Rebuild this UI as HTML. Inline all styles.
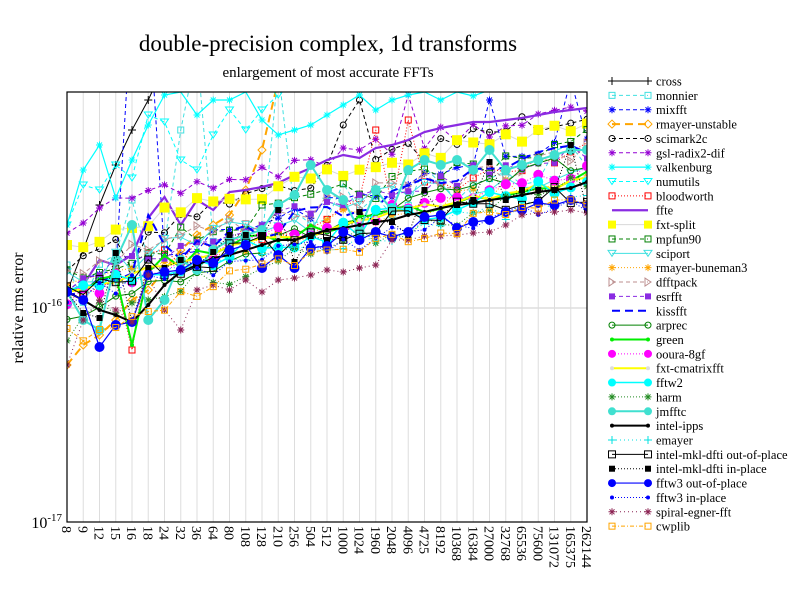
<!DOCTYPE html>
<html><head><meta charset="utf-8"><style>
html,body{margin:0;padding:0;background:#fff}
svg{display:block;font-family:"Liberation Serif",serif}
</style></head><body>
<svg id="s" width="792" height="612" xmlns="http://www.w3.org/2000/svg">
<rect width="792" height="612" fill="#fff"/>
<text x="328" y="51" font-size="23" text-anchor="middle">double-precision complex, 1d transforms</text>
<text x="328" y="77" font-size="15" text-anchor="middle">enlargement of most accurate FFTs</text>
<text transform="translate(23,308) rotate(-90)" font-size="16" text-anchor="middle">relative rms error</text>
<text x="62" y="313" font-size="16" text-anchor="end">10<tspan dy="-7" font-size="11">-16</tspan></text>
<text x="62" y="528" font-size="16" text-anchor="end">10<tspan dy="-7" font-size="11">-17</tspan></text>
<g id="grid"></g><g id="ser"></g><g id="leg"></g>
<rect x="67" y="92" width="520" height="430" fill="none" stroke="#000" stroke-width="1.2"/>
</svg>
<script>
const NS="http://www.w3.org/2000/svg";
const X0=67,DX=16.25,T=92,B=522;
const labels=[8,9,12,15,16,18,24,32,36,64,80,108,128,210,256,504,512,1000,1024,1960,2048,4096,4725,8192,10368,16384,27000,32768,65536,75600,131072,165375,262144];
function el(p,n,a,t){const e=document.createElementNS(NS,n);for(const k in a)e.setAttribute(k,a[k]);if(t!==undefined)e.textContent=t;p.appendChild(e);return e;}
const g=document.getElementById('grid'),S=document.getElementById('ser'),L=document.getElementById('leg'),svg=document.getElementById('s');
labels.forEach((l,i)=>{const x=X0+i*DX;el(g,'line',{x1:x,x2:x,y1:T,y2:B,stroke:'#ddd','stroke-width':1});
 el(svg,'text',{transform:`translate(${x-5},526) rotate(90)`,'font-size':14},String(l));});
el(g,'line',{x1:X0,x2:587,y1:308,y2:308,stroke:'#ddd','stroke-width':1.5});
let seed=7;function rnd(){seed=(seed*16807)%2147483647;return seed/2147483647;}
function gen(a,b,noise,sp){const r=[];for(let i=0;i<33;i++){let v=a+(b-a)*Math.pow(i/32,0.8)+(rnd()-0.5)*2*noise;if(sp&&sp[i]!==undefined)v=sp[i];r.push(v);}return r;}
const series=[
{n:'cross',c:'#000',w:1,d:'',m:'plus',y:[292,250,205,165,130,100,65,30,0,0,0,0,0,0,0,0,0,0,0,0,0,0,0,0,0,0,0,0,0,0,0,0,0]},
{n:'monnier',c:'#40e0e0',w:1,d:'4,3',m:'sq',y:gen(290,150,25,{4:200,7:130,8:50,13:70})},
{n:'mixfft',c:'#0000ff',w:1,d:'4,3',m:'star',y:gen(295,140,10,{4:0,5:0,26:100,31:80})},
{n:'rmayer-unstable',c:'#ffa500',w:2,d:'8,5',m:'dia',y:[365,345,335,320,300,290,270,250,235,225,215,190,150,80,0,0,0,0,0,0,0,0,0,0,0,0,0,0,0,0,0,0,0]},
{n:'scimark2c',c:'#000',w:1,d:'4,3',m:'circ',y:gen(262,110,12,{4:270,17:125,18:100})},
{n:'gsl-radix2-dif',c:'#9400d3',w:1,d:'4,3',m:'star',y:gen(225,110,10,{18:150,21:95})},
{n:'valkenburg',c:'#00ffff',w:1.2,d:'',m:'star',y:[225,170,145,198,160,125,95,92,115,100,100,92,120,135,130,125,115,105,95,110,100,95,92,100,92,96,90,90,92,88,90,85,90]},
{n:'numutils',c:'#00ffff',w:1,d:'4,3',m:'tri',y:[225,185,190,165,178,115,122,160,170,135,110,130,110,95,80,60,50,40,30,20,20,10,5,0,0,0,0,0,0,0,0,0,0]},
{n:'bloodworth',c:'#ff0000',w:1,d:'1,2',m:'sq',y:gen(298,150,12,{4:350,19:130,21:120})},
{n:'ffte',c:'#8a2be2',w:2.2,d:'',m:'',y:[292,285,260,265,255,218,197,225,200,210,192,190,187,183,175,168,160,155,158,148,145,140,132,128,125,122,122,120,118,115,112,110,108]},
{n:'fxt-split',c:'#d8d8d8',w:1,d:'',m:'bsq',mc:'#ffff00',y:gen(245,125,10,{0:245,4:228})},
{n:'mpfun90',c:'#008000',w:1,d:'4,3',m:'sq',y:gen(280,140,12)},
{n:'sciport',c:'#40e0e0',w:1,d:'',m:'tri',y:gen(280,165,15)},
{n:'rmayer-buneman3',c:'#ffa500',w:1,d:'1,2',m:'star',y:gen(288,175,12)},
{n:'dfftpack',c:'#bc8f8f',w:1,d:'4,3',m:'rtri',y:gen(272,155,12)},
{n:'esrfft',c:'#8a2be2',w:1,d:'4,3',m:'fsq',y:gen(285,150,10)},
{n:'kissfft',c:'#0000ff',w:2,d:'8,5',m:'',y:gen(295,150,10,{5:215,6:245})},
{n:'arprec',c:'#008000',w:1,d:'',m:'circ',y:gen(320,160,10)},
{n:'green',c:'#00ee00',w:2,d:'',m:'dot',y:gen(295,175,8,{4:345})},
{n:'ooura-8gf',c:'#ff00ff',w:1,d:'1,2',m:'big',y:gen(300,170,10)},
{n:'fxt-cmatrixfft',c:'#ffff00',w:2,d:'',m:'dot',mc:'#ddd',y:gen(295,180,6)},
{n:'fftw2',c:'#00ffff',w:1.5,d:'',m:'big',y:gen(300,180,12)},
{n:'harm',c:'#228b22',w:1,d:'1,2',m:'star',y:gen(330,185,12)},
{n:'jmfftc',c:'#40e0d0',w:2,d:'',m:'big',y:[292,320,330,260,225,320,300,260,270,250,240,235,230,205,195,165,190,200,230,190,210,170,160,165,160,170,150,170,165,160,155,150,150]},
{n:'intel-ipps',c:'#000',w:2,d:'',m:'dot',y:[292,300,310,315,322,305,285,272,265,258,255,250,245,240,240,235,230,228,225,222,220,215,212,208,205,203,200,198,195,192,190,188,182]},
{n:'emayer',c:'#00e0e0',w:1,d:'1,3',m:'plus',y:gen(300,200,10)},
{n:'intel-mkl-dfti out-of-place',c:'#000',w:1,d:'',m:'osq',y:gen(295,190,12)},
{n:'intel-mkl-dfti in-place',c:'#000',w:1,d:'1,2',m:'fsq',y:[292,313,318,253,322,268,268,260,265,252,235,235,236,210,262,236,240,238,212,222,222,235,190,215,205,200,162,200,190,190,190,145,210]},
{n:'fftw3 out-of-place',c:'#0000ff',w:1.2,d:'',m:'big',y:[292,300,347,325,322,275,272,270,260,263,250,245,268,255,268,248,246,232,240,232,237,232,217,215,228,222,220,212,210,203,205,200,205]},
{n:'fftw3 in-place',c:'#0000ff',w:1,d:'1,2',m:'dot',y:gen(300,205,10)},
{n:'spiral-egner-fft',c:'#8b2252',w:1,d:'1,3',m:'star',y:[365,320,300,310,322,275,310,330,290,285,290,280,292,280,278,275,270,272,268,265,240,240,236,236,235,233,232,225,215,213,212,210,213]},
{n:'cwplib',c:'#ffa500',w:1,d:'4,2,1,2',m:'sq',y:gen(340,195,12)}
];
function marker(p,m,x,y,c,mc,sc){mc=mc||c;sc=sc||1;
 if(m==='plus'){el(p,'path',{d:`M${x-4} ${y}h8M${x} ${y-4}v8`,stroke:mc,'stroke-width':1});}
 else if(m==='star'){el(p,'path',{d:`M${x-3.5} ${y}h7M${x} ${y-3.5}v7M${x-2.5} ${y-2.5}l5 5M${x-2.5} ${y+2.5}l5 -5`,stroke:mc,'stroke-width':1});}
 else if(m==='sq'){el(p,'rect',{x:x-3,y:y-3,width:6,height:6,fill:'none',stroke:mc});}
 else if(m==='osq'){el(p,'rect',{x:x-3.5,y:y-3.5,width:7,height:7,fill:'none',stroke:mc});}
 else if(m==='fsq'){el(p,'rect',{x:x-3,y:y-3,width:6,height:6,fill:mc});}
 else if(m==='bsq'){const r=5*sc;el(p,'rect',{x:x-r,y:y-r,width:2*r,height:2*r,fill:mc});}
 else if(m==='circ'){el(p,'circle',{cx:x,cy:y,r:3,fill:'none',stroke:mc});}
 else if(m==='dot'){el(p,'circle',{cx:x,cy:y,r:2,fill:mc});}
 else if(m==='big'){el(p,'circle',{cx:x,cy:y,r:5*sc,fill:mc});}
 else if(m==='dia'){el(p,'path',{d:`M${x-4} ${y}l4 -4l4 4l-4 4z`,fill:'none',stroke:mc});}
 else if(m==='tri'){el(p,'path',{d:`M${x-4} ${y-3}h8l-4 6z`,fill:'none',stroke:mc});}
 else if(m==='rtri'){el(p,'path',{d:`M${x-3} ${y-4}v8l6 -4z`,fill:'none',stroke:mc});}
}
const clip=el(svg,'clipPath',{id:'cp'});el(clip,'rect',{x:X0,y:T,width:520,height:430});
S.setAttribute('clip-path','url(#cp)');
series.forEach((s,k)=>{
 const pts=s.y.map((v,i)=>[X0+i*DX,v]);
 el(S,'polyline',{points:pts.map(p=>p.join(',')).join(' '),fill:'none',stroke:s.c,'stroke-width':s.w,'stroke-dasharray':s.d});
 if(s.m)pts.forEach(p=>{if(p[1]>T)marker(S,s.m,p[0],p[1],s.c,s.mc);});
 const ly=81+k*14.36;
 el(L,'line',{x1:612,x2:648,y1:ly,y2:ly,stroke:s.c,'stroke-width':s.w,'stroke-dasharray':s.d});
 if(s.m){marker(L,s.m,612,ly,s.c,s.mc,0.8);marker(L,s.m,648,ly,s.c,s.mc,0.8);}
 el(L,'text',{x:656,y:ly+4.5,'font-size':12.5},s.n);
});
</script>
</body></html>
